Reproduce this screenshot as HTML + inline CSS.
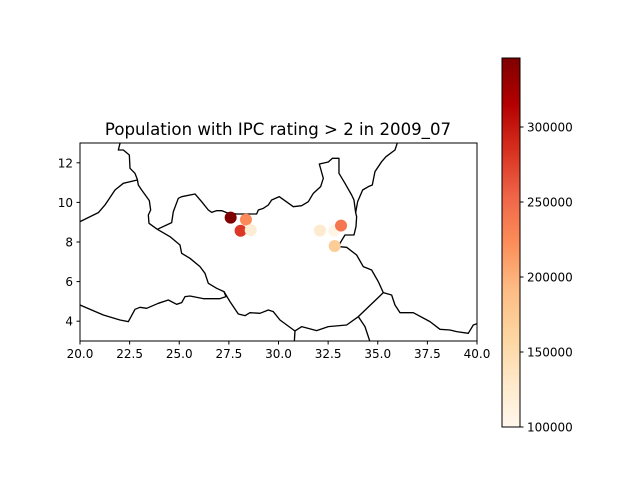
<!DOCTYPE html>
<html><head><meta charset="utf-8"><style>
body{margin:0;background:#fff;font-family:"Liberation Sans",sans-serif}
svg text{font-family:"DejaVu Sans","Liberation Sans",sans-serif;fill:#000}
</style></head><body>
<svg id="c" width="640" height="480" viewBox="0 0 640 480">
<defs>
<linearGradient id="cg" x1="0" y1="1" x2="0" y2="0">
<stop offset="0" stop-color="#fff7ec"/><stop offset="0.125" stop-color="#fee8c8"/>
<stop offset="0.25" stop-color="#fdd49e"/><stop offset="0.375" stop-color="#fdbb84"/>
<stop offset="0.5" stop-color="#fc8d59"/><stop offset="0.625" stop-color="#ef6548"/>
<stop offset="0.75" stop-color="#d7301f"/><stop offset="0.875" stop-color="#b30000"/>
<stop offset="1" stop-color="#7f0000"/></linearGradient>
<clipPath id="ax"><rect x="80" y="143" width="397" height="198"/></clipPath>
</defs>
<text x="278" y="135" font-size="16.6" text-anchor="middle">Population with IPC rating &gt; 2 in 2009_07</text>
<g clip-path="url(#ax)">
<g transform="translate(80,140) scale(0.3333)" fill="none" stroke="#000" stroke-width="4" stroke-linejoin="round">
<polyline points="120,10 115,30 130,30 148,45 150,85 165,100 172,118 175,135 185,150 208,182 212,210 205,225 207,250 232,268"/>
<polyline points="0,245 55,218 75,195 105,150 130,130 172,120"/>
<polyline points="232,268 275,248 280,215 295,175 305,170 345,162 365,185 385,210 395,217 410,212 425,212 440,218 470,222 530,222 535,210 550,205 565,195 575,180 598,170 640,200 665,197 685,185 700,160 722,140 730,115 718,72 745,66 757,55 777,55 777,100 795,130 815,165 822,180 827,218 830,230 828,260 822,285 795,285 780,310 778,320"/>
<polyline points="827,218 833,185 848,150 865,140 877,135 885,95 905,65 918,50 945,30 955,0"/>
<polyline points="778,320 800,322 830,345 850,380 875,390 895,425 910,458 935,465 945,495 960,518 1000,518 1050,545 1080,568 1110,570 1130,575 1165,580 1180,555 1200,548"/>
<polyline points="232,268 270,290 300,315 305,340 330,355 360,380 375,400 385,430 410,445 432,455 438,470 420,476 370,476 330,468 315,470 305,488 290,493 265,480 235,490 200,505 180,502 165,508 145,545 120,540 70,525 0,495"/>
<polyline points="432,455 450,485 475,522 495,527 510,518 540,520 565,510 580,515 600,540 645,573 665,560 710,572 745,560 800,555 835,530 910,458"/>
<polyline points="835,530 855,560 870,605"/>
<polyline points="645,573 643,605"/>
</g></g>
<g id="pts"></g>
<rect x="80" y="143" width="397" height="198" fill="none" stroke="#000" stroke-width="1"/>
<g id="xt"></g>
<g id="yt"></g>
<rect x="502" y="58" width="18" height="369" fill="url(#cg)" stroke="#000" stroke-width="1"/>
<g id="ct"></g>
</svg>
<script>
const lons=[27.59,28.36,28.09,28.6,32.09,32.8,33.15,32.83];
const lats=[9.23,9.13,8.57,8.6,8.58,8.57,8.83,7.8];
const pops=[346000,225000,280000,120000,125000,105000,240000,170000];
const xTicks=[20,22.5,25,27.5,30,32.5,35,37.5,40];
const yTicks=[4,6,8,10,12];
const cTicks=[100000,150000,200000,250000,300000];
const NS='http://www.w3.org/2000/svg';
const X=v=>80+(v-20)/20*397, Y=v=>143+(13-v)*19.8;
const vmin=100000,vmax=346000;
const C=v=>427-(v-vmin)/(vmax-vmin)*369;
const stops=['#fff7ec','#fee8c8','#fdd49e','#fdbb84','#fc8d59','#ef6548','#d7301f','#b30000','#7f0000'];
function cmap(v){let t=Math.max(0,Math.min(1,(v-vmin)/(vmax-vmin)))*8;let i=Math.min(7,Math.floor(t)),f=t-i;
const a=stops[i],b=stops[i+1];const h=(s,k)=>parseInt(s.substr(1+2*k,2),16);
return 'rgb('+[0,1,2].map(k=>Math.round(h(a,k)+(h(b,k)-h(a,k))*f)).join(',')+')';}
function mk(tag,at,p){const e=document.createElementNS(NS,tag);for(const k in at)e.setAttribute(k,at[k]);p.appendChild(e);return e;}
const pts=document.getElementById('pts');
lons.forEach((lo,i)=>{const c=mk('circle',{cx:X(lo),cy:Y(lats[i]),r:6,fill:cmap(pops[i])},pts);

});
const xt=document.getElementById('xt');
xTicks.forEach(v=>{const x=X(v);mk('line',{x1:x,x2:x,y1:341,y2:344.5,stroke:'#000'},xt);
const t=mk('text',{x:x,y:358,'font-size':12,'text-anchor':'middle'},xt);t.textContent=v.toFixed(1);

});
const yt=document.getElementById('yt');
yTicks.forEach(v=>{const y=Y(v);mk('line',{x1:76.5,x2:80,y1:y,y2:y,stroke:'#000'},yt);
const t=mk('text',{x:73,y:y+4.5,'font-size':12,'text-anchor':'end'},yt);t.textContent=v;

});
const ct=document.getElementById('ct');
cTicks.forEach(v=>{const y=C(v);mk('line',{x1:520,x2:523.5,y1:y,y2:y,stroke:'#000'},ct);
const t=mk('text',{x:527,y:y+4.5,'font-size':12},ct);t.textContent=v;

});
</script>
</body></html>
